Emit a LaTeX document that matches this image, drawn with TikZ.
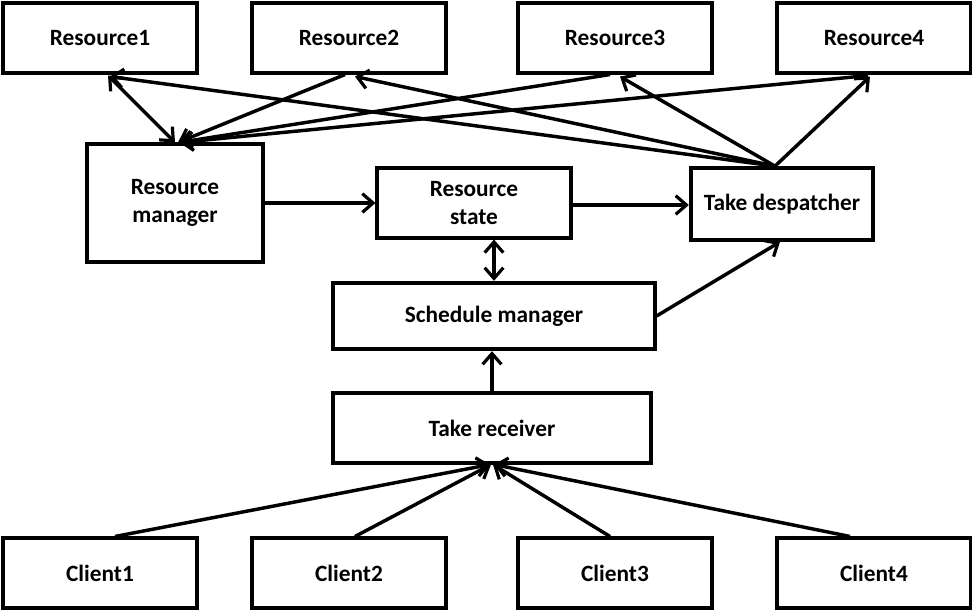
\documentclass[tikz,border=0pt]{standalone}
\usepackage{fontspec}
\setmainfont{Carlito}
\usetikzlibrary{arrows.meta,calc}

\begin{document}
\begin{tikzpicture}[
	x=0.75pt, y=-0.75pt,
	% common looks for boxes and arrows
	box/.style={draw, line width=2.8pt, inner sep=0pt, align=center,
		font=\fontsize{17.5}{20.5}\selectfont\bfseries},
	link/.style={line width=2.6pt, -{Straight Barb[length=8pt,width=14pt,line width=2.4pt]}},
	bilink/.style={line width=2.6pt, {Straight Barb[length=8pt,width=14pt,line width=2.4pt]}-{Straight Barb[length=8pt,width=14pt,line width=2.4pt]}}
	]
	
	% ----- 0. canvas -----
	\useasboundingbox (0,0) rectangle (972,612);
	
	% ----- 1. resources on top -----
	\node[box, minimum width=145pt, minimum height=52pt] (R1) at (100,38) {Resource1};
	\node[box, minimum width=145pt, minimum height=52pt] (R2) at (349,38) {Resource2};
	\node[box, minimum width=145pt, minimum height=52pt] (R3) at (615,38) {Resource3};
	\node[box, minimum width=145pt, minimum height=52pt] (R4) at (874,38) {Resource4};
	
	% ----- 2. middle boxes -----
	% resource manager
	\node[box, minimum width=132pt, minimum height=88pt] (RM) at (175,203) {Resource\\manager};
	% resource state
	\node[box, minimum width=145pt, minimum height=52pt] (RS) at (474,203) {Resource\\state};
	% take despatcher
	\node[box, minimum width=137pt, minimum height=54pt] (TD) at (782,204) {Take despatcher};
	% schedule manager
	\node[box, minimum width=241pt, minimum height=50pt] (SM) at (494,316) {Schedule manager};
	% take receiver
	\node[box, minimum width=238pt, minimum height=52pt] (TR) at (492,428) {Take receiver};
	
	% ----- 3. clients at the bottom -----
	\node[box, minimum width=145pt, minimum height=52pt] (C1) at (100,573) {Client1};
	\node[box, minimum width=145pt, minimum height=52pt] (C2) at (349,573) {Client2};
	\node[box, minimum width=145pt, minimum height=52pt] (C3) at (615,573) {Client3};
	\node[box, minimum width=145pt, minimum height=52pt] (C4) at (874,573) {Client4};
	
	% ----- 4. resources <-> resource manager -----
	\draw[bilink] ($(R1.south)+(8,1)$) -- (RM.north);
	\draw[link] ($(R2.south)+(-4,0)$) -- ($(RM.north)+(3,0)$);
	\draw[link] ($(R3.south)+(-5,0)$) -- ($(RM.north)+(4,0)$);
	\draw[link] ($(R4.south)+(-6,1)$) -- ($(RM.north)+(5,0)$);
	
	% ----- 5. despatcher -> resources -----
	\coordinate (TDtop) at ($(TD.north)+(-7,0)$);
	\draw[link] (TDtop) -- ($(R1.south)+(10,2)$);
	\draw[link] (TDtop) -- ($(R2.south)+(6,2)$);
	\draw[link] (TDtop) -- ($(R3.south)+(5,2)$);
	\draw[link] (TDtop) -- ($(R4.south)+(-4,2)$);
	
	% ----- 6. middle flow -----
	\draw[link] (RM.east) -- (RS.west);
	\draw[link] ($(RS.east)+(0,2)$) -- ($(TD.west)+(0,1)$);
	\draw[bilink] (SM.north) -- (SM.north |- RS.south);
	\draw[link] (SM.east) -- ($(TD.south)+(-2,0)$);
	\draw[link] (TR.north) -- (TR.north |- SM.south);
	
	% ----- 7. clients -> take receiver -----
	\draw[link] ($(C1.north)+(15,0)$) -- ($(TR.south)+(-2,0)$);
	\draw[link] ($(C2.north)+(6,0)$) -- ($(TR.south)+(-1,0)$);
	\draw[link] ($(C3.north)+(-5,0)$) -- ($(TR.south)+(1,0)$);
	\draw[link] ($(C4.north)+(-24,0)$) -- ($(TR.south)+(2,0)$);
	
\end{tikzpicture}
\end{document}
